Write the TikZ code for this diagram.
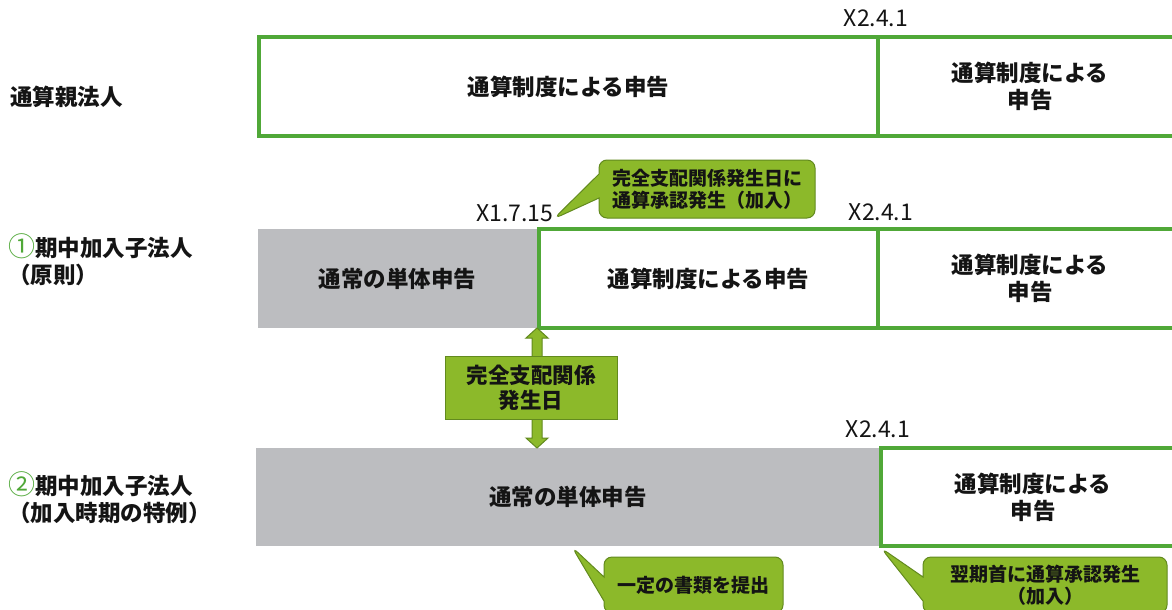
\documentclass[tikz,border=0pt]{standalone}
\usepackage{fontspec}
\setmainfont{Noto Sans CJK JP}
\usetikzlibrary{shapes.callouts,calc}
\definecolor{gline}{RGB}{80,168,56}
\definecolor{grayfill}{RGB}{188,189,192}
\definecolor{cfill}{RGB}{140,185,42}
\definecolor{cline}{RGB}{98,138,30}
\definecolor{txt}{RGB}{20,20,20}
\newcommand{\cnum}[1]{{\color{gline}\mdseries\fontsize{27}{27}\selectfont #1}}
\begin{document}
\begin{tikzpicture}[x=1pt,y=-1pt,
  bigfont/.style={font=\fontsize{22.5}{27}\selectfont\bfseries},
  gbox/.style={draw=gline, line width=4pt, fill=white, inner sep=0pt, outer sep=0pt, align=center, text=txt, bigfont},
  graybox/.style={fill=grayfill, inner sep=0pt, outer sep=0pt, align=center, text=txt, bigfont},
  rowlabel/.style={anchor=west, align=left, inner sep=0pt, text=txt, font=\fontsize{22.5}{27}\selectfont\bfseries},
  datelabel/.style={inner sep=0pt, text=txt, font=\fontsize{23}{25}\selectfont},
  callbox/.style={rectangle callout, rounded corners=8pt, fill=cfill, draw=cline, line width=1pt, align=center, inner sep=0pt, text=txt, callout pointer width=24pt, font=\fontsize{19}{22}\selectfont\bfseries},
  midbox/.style={rectangle, fill=cfill, draw=cline, line width=1pt, align=center, inner sep=0pt, text=txt, font=\fontsize{21.5}{25}\selectfont\bfseries},
  fatarrow/.style={fill=cfill, draw=cline, line width=1pt, line join=miter}
]
\useasboundingbox (0,0) rectangle (1172,610);
\fill[white] (0,0) rectangle (1172,610);

% row labels
\node[rowlabel] (l1) at (10,97) {通算親法人};
\node[rowlabel] (l2) at (8,260) {\cnum{①}期中加入子法人\\（原則）};
\node[rowlabel] (l3) at (8,498) {\cnum{②}期中加入子法人\\（加入時期の特例）};

% row 1
\node[gbox, minimum width=619pt, minimum height=99pt] (r1a) at (568.5,86.5) {通算制度による申告};
\node[gbox, minimum width=304pt, minimum height=99pt] (r1b) at (1030,86.5) {通算制度による\\申告};
\node[datelabel] (d1) at (876,18) {X2.4.1};

% row 2
\node[graybox, minimum width=279pt, minimum height=99pt] (r2gray) at (397.5,278.5) {通常の単体申告};
\node[gbox, minimum width=339pt, minimum height=99pt] (r2a) at (708.5,278.5) {通算制度による申告};
\node[gbox, minimum width=304pt, minimum height=99pt] (r2b) at (1030,278.5) {通算制度による\\申告};
\node[datelabel] (d2a) at (515,213) {X1.7.15};
\node[datelabel] (d2b) at (881,212) {X2.4.1};

% row 3
\node[graybox, minimum width=624pt, minimum height=98pt] (r3gray) at (568,497) {通常の単体申告};
\node[gbox, minimum width=304pt, minimum height=98pt] (r3b) at (1033,497) {通算制度による\\申告};
\node[datelabel] (d3) at (878,429) {X2.4.1};

% double arrow between rows 2 and 3
\coordinate (at) at (r2gray.south east);
\coordinate (ab) at (r2gray.south east |- r3gray.north);
\draw[fatarrow] (at) -- ++(11,10) -- ++(-6,0) -- ($(ab)+(5,-10)$) -- ++(6,0) -- (ab)
  -- ++(-11,-10) -- ++(6,0) -- ($(at)+(-5,10)$) -- ++(-6,0) -- cycle;
\node[midbox, minimum width=172pt, minimum height=63pt] (kd) at (531,387.5) {完全支配関係\\発生日};

% callouts
\coordinate (p1) at ($(d2a.south east)+(0,-3)$);
\node[callbox, minimum width=216pt, minimum height=58pt, callout absolute pointer={(p1)}] (c1) at (707,189) {完全支配関係発生日に\\通算承認発生（加入）};
\coordinate (p3) at ($(r3gray.south)+(4,1)$);
\node[callbox, minimum width=179pt, minimum height=56pt, callout absolute pointer={(p3)}] (c3) at (693.5,585) {一定の書類を提出};
\coordinate (p4) at ($(r3b.south west)+(0,2)$);
\node[callbox, minimum width=244pt, minimum height=56pt, callout absolute pointer={(p4)}] (c4) at (1045,585) {翌期首に通算承認発生\\（加入）};
\end{tikzpicture}
\end{document}
